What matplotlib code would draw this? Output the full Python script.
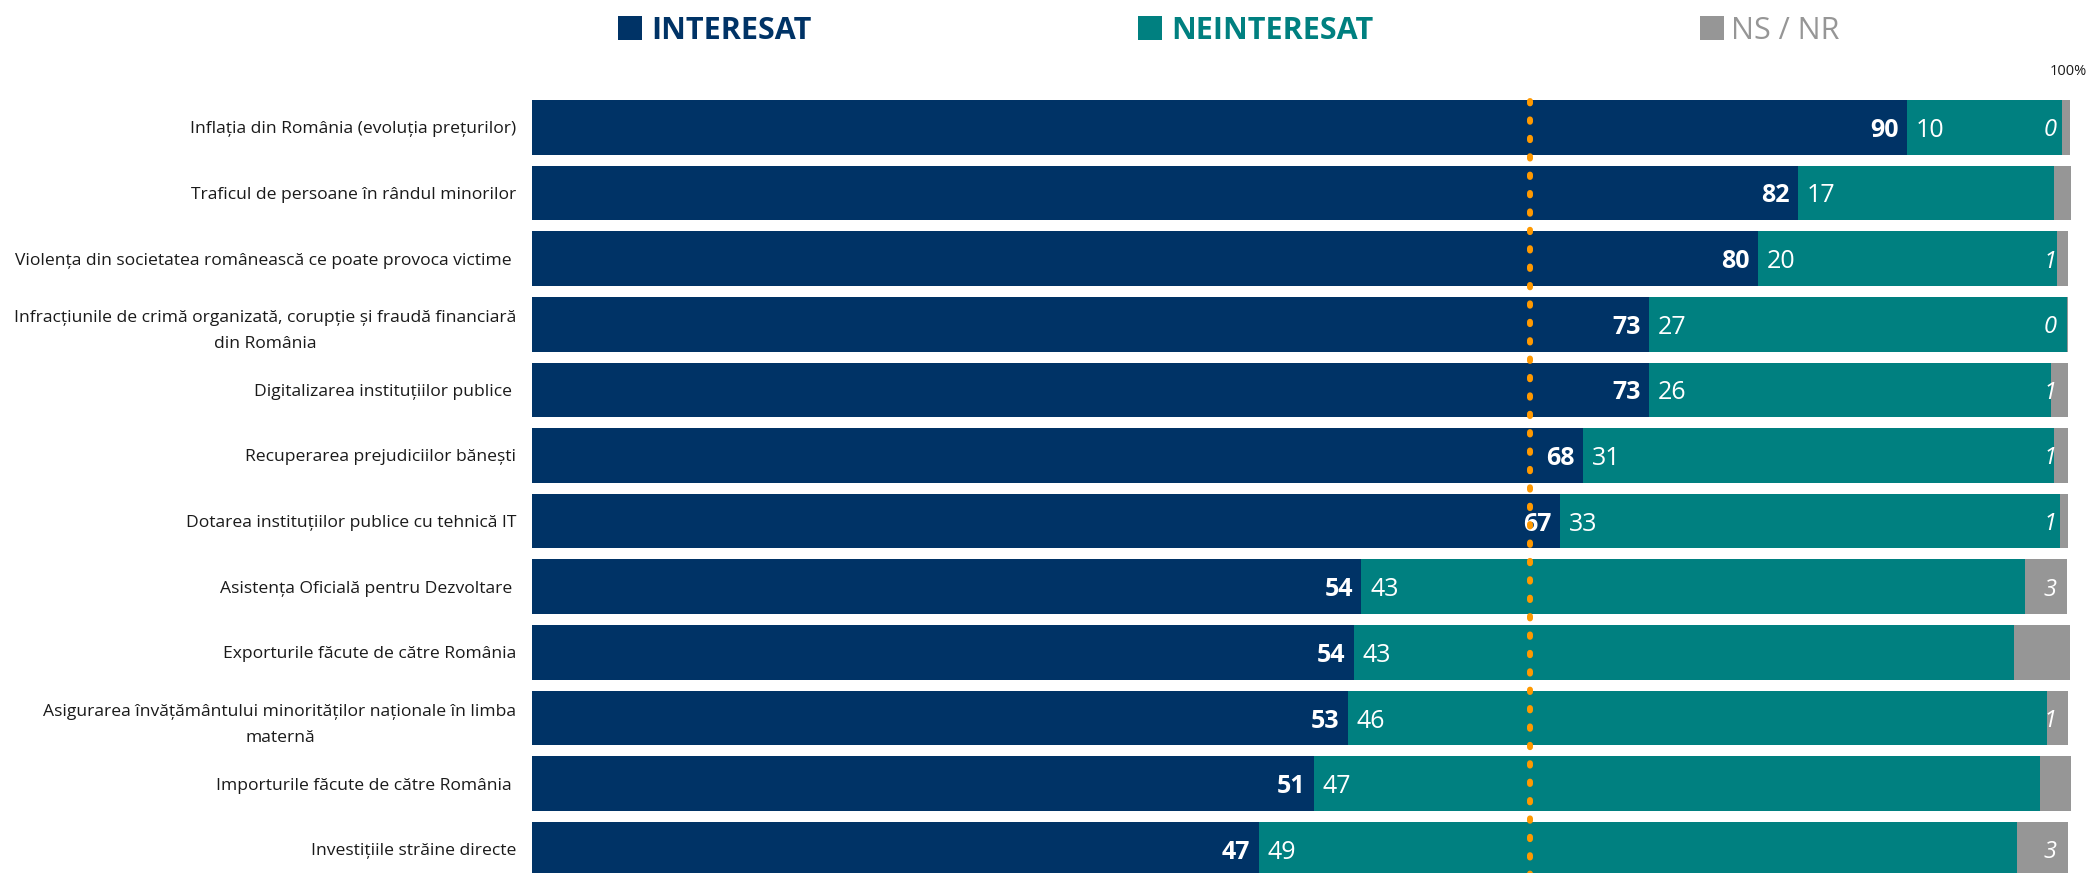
import matplotlib
matplotlib.use("Agg")
import matplotlib.pyplot as plt
from matplotlib.patches import Rectangle
import numpy as np

plt.rcParams["font.family"] = ["Open Sans", "DejaVu Sans"]

# ---------------- data ----------------
categories = [
    "Inflația din România (evoluția prețurilor)",
    "Traficul de persoane în rândul minorilor",
    "Violența din societatea românească ce poate provoca victime ",
    "Infracțiunile de crimă organizată, corupție și fraudă financiară\ndin România",
    "Digitalizarea instituțiilor publice ",
    "Recuperarea prejudiciilor bănești",
    "Dotarea instituțiilor publice cu tehnică IT",
    "Asistența Oficială pentru Dezvoltare ",
    "Exporturile făcute de către România",
    "Asigurarea învățământului minorităților naționale în limba\nmaternă",
    "Importurile făcute de către România ",
    "Investițiile străine directe",
]
interesat = [89.5, 82.4, 79.8, 72.7, 72.7, 68.4, 66.9, 54.0, 53.5, 53.1, 50.9, 47.3]
neinteresat = [10.1, 16.7, 19.5, 27.2, 26.2, 30.7, 32.6, 43.2, 43.0, 45.5, 47.3, 49.4]
ns_nr = [0.5, 1.1, 0.7, 0.1, 1.1, 0.9, 0.5, 2.7, 3.6, 1.4, 2.0, 3.3]

labels_interesat = ["90", "82", "80", "73", "73", "68", "67", "54", "54", "53", "51", "47"]
labels_neinteresat = ["10", "17", "20", "27", "26", "31", "33", "43", "43", "46", "47", "49"]
labels_ns = ["0", "", "1", "0", "1", "1", "1", "3", "", "1", "", "3"]

reference_line = 65
legend_names = ["INTERESAT", "NEINTERESAT", "NS / NR"]

# ---------------- style ----------------
NAVY = "#003366"
TEAL = "#008080"
GRAY = "#969696"
ORANGE = "#FF9900"
TXT = "#1a1a1a"

W, H = 2091, 873
fig = plt.figure(figsize=(W / 100, H / 100), dpi=100)
ax = fig.add_axes([532 / W, 0.0, 1551.4 / W, (H - 85) / H])

y = np.arange(len(categories))
bh = 0.833
left2 = np.array(interesat)
left3 = left2 + np.array(neinteresat)
ax.barh(y, interesat, height=bh, color=NAVY, linewidth=0)
ax.barh(y, neinteresat, left=left2, height=bh, color=TEAL, linewidth=0)
ax.barh(y, ns_nr, left=left3, height=bh, color=GRAY, linewidth=0)

for i in range(len(categories)):
    ax.annotate(labels_interesat[i], xy=(interesat[i], y[i]), xytext=(-5.8, 0),
                textcoords="offset points", ha="right", va="center_baseline",
                color="white", fontsize=18, fontweight="bold")
    ax.annotate(labels_neinteresat[i], xy=(interesat[i], y[i]), xytext=(6.5, 0),
                textcoords="offset points", ha="left", va="center_baseline",
                color="white", fontsize=18)
    if labels_ns[i]:
        ax.text(99.25, y[i], labels_ns[i], ha="right", va="center_baseline",
                color="white", fontsize=17, fontstyle="italic")

ln, = ax.plot([reference_line, reference_line], [-0.40, 11.6], color=ORANGE,
              linewidth=4.3, linestyle=(0, (0.4, 2.68)), zorder=5)
ln.set_dash_capstyle("round")

ax.set_xlim(0, 101)
ax.set_ylim(11.361, -0.6444)
ax.set_yticks(y, categories)
for lbl in ax.get_yticklabels():
    lbl.set_multialignment("center")
    lbl.set_linespacing(1.8)
ax.tick_params(axis="y", length=0, pad=11.2, labelsize=12.6, labelcolor=TXT)
ax.xaxis.tick_top()
ax.set_xticks([100], ["100%"])
ax.tick_params(axis="x", length=0, pad=4, labelsize=10.5, labelcolor=TXT)
for s in ax.spines.values():
    s.set_visible(False)

# ---------------- legend ----------------
legend_colors = [NAVY, TEAL, GRAY]
legend_weights = ["bold", "bold", "normal"]
sq_x = [618, 1138, 1700]
tx_x = [651, 1171, 1731]
for name, c, wgt, sx, tx in zip(legend_names, legend_colors, legend_weights, sq_x, tx_x):
    fig.add_artist(Rectangle((sx / W, 1 - 40 / H), 24 / W, 24 / H,
                             transform=fig.transFigure, color=c, linewidth=0))
    fig.text(tx / W, 1 - 39 / H, name, ha="left", va="baseline", color=c,
             fontsize=22, fontweight=wgt)

fig.savefig("out.png", dpi=100)
